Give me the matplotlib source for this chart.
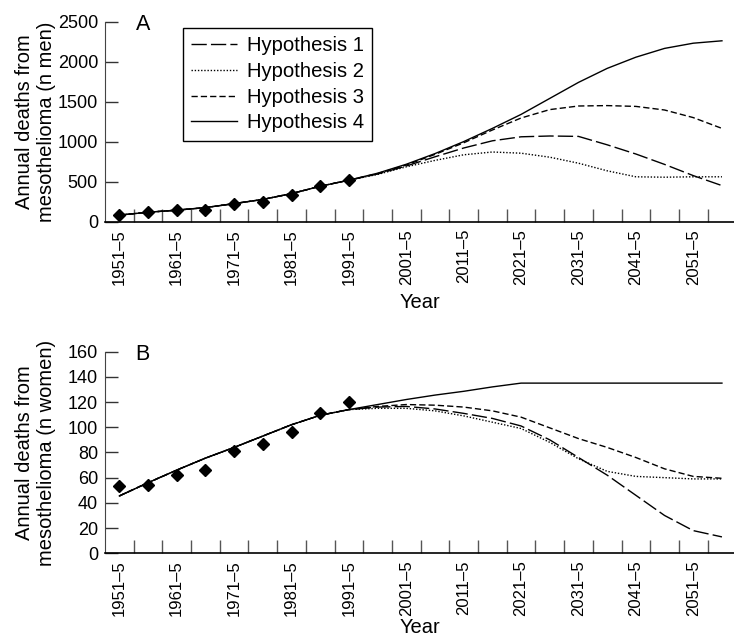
import numpy as np
import matplotlib
matplotlib.use("Agg")
import matplotlib.pyplot as plt

plt.rcParams['font.family'] = ['Liberation Sans', 'DejaVu Sans']

# five-year periods, 1951-5 ... 2056-60
periods = ["1951–5", "1956–60", "1961–5", "1966–70", "1971–5", "1976–80",
           "1981–5", "1986–90", "1991–5", "1996–2000", "2001–5", "2006–10",
           "2011–5", "2016–20", "2021–5", "2026–30", "2031–5", "2036–40",
           "2041–5", "2046–50", "2051–5", "2056–60"]

# men: observed deaths and fitted/projected values
men_observed = [84, 126, 150, 152, 226, 256, 340, 450, 525]
men_fit = [86, 122, 148, 180, 230, 282, 355, 447, 523]
men_h1 = [600, 700, 815, 925, 1015, 1065, 1075, 1070, 965, 850, 720, 580, 455]
men_h2 = [595, 690, 770, 840, 875, 860, 810, 735, 640, 565, 560, 565, 565]
men_h3 = [605, 712, 845, 990, 1150, 1300, 1405, 1450, 1455, 1445, 1400, 1305, 1170]
men_h4 = [610, 722, 855, 1005, 1170, 1345, 1545, 1745, 1920, 2060, 2170, 2235, 2265]

# women
women_observed = [53, 54, 62, 66, 81, 87, 96, 111, 120]
women_fit = [45.5, 56, 66, 75.5, 84, 93, 102, 109.5, 114]
women_h1 = [116, 116.5, 114.5, 111, 107, 101, 90, 76, 62, 46, 30, 18, 13]
women_h2 = [115, 115, 113, 109, 104, 99, 88, 75, 65, 61, 60, 59, 59]
women_h3 = [116.5, 118, 117.5, 116, 113, 108, 99.5, 91, 84, 76, 67, 61, 59.5]
women_h4 = [118, 122, 125.5, 128.5, 132, 135, 135, 135, 135, 135, 135, 135, 135]

labels = ["Hypothesis 1", "Hypothesis 2", "Hypothesis 3", "Hypothesis 4"]
dashes = [(11, 3), (1, 1.3), (4.5, 2.2), None]

W, H = 734, 639
fig = plt.figure(figsize=(W / 100, H / 100), dpi=100)
axA = fig.add_axes([105 / W, (H - 222) / H, 629 / W, 200 / H])
axB = fig.add_axes([105 / W, (H - 553.3) / H, 629 / W, 201.7 / H])

x = np.arange(len(periods))


def draw(ax, observed, fit, hyps, ymax, ystep, ylabel, letter, xlab_y):
    n_obs = len(observed)
    for lab, vals, d in zip(labels, hyps, dashes):
        y = fit + vals
        line, = ax.plot(x, y, color='black', lw=1.0, label=lab)
        if d is not None:
            line.set_dashes(d)
    ax.plot(x[:n_obs], observed, linestyle='none', marker='D', ms=6.5,
            color='black')

    ax.set_xlim(-0.5, 21.42)
    ax.set_ylim(0, ymax)
    ax.set_yticks(np.arange(0, ymax + 1, ystep))
    ax.set_xticks(x[::2])
    ax.set_xticklabels(periods[::2], rotation=90)
    ax.set_xticks(np.arange(0.5, 21, 1), minor=True)
    ax.tick_params(axis='x', which='major', length=0, pad=5, labelsize=12)
    ax.tick_params(axis='x', which='minor', direction='in', length=9.5,
                   width=1, color='#555555')
    ax.tick_params(axis='y', direction='in', length=9.5, width=1,
                   color='#333333', pad=5, labelsize=13)
    for s in ['top', 'right']:
        ax.spines[s].set_visible(False)
    ax.spines['left'].set_color('#444444')
    ax.spines['bottom'].set_linewidth(1.2)

    ax.set_ylabel(ylabel, fontsize=14.5)
    ax.yaxis.set_label_coords(-0.078, 0.5)
    ax.set_xlabel("Year", fontsize=14.5)
    ax.xaxis.set_label_coords(0.5, xlab_y)
    ax.text(0.06, 0.985, letter, transform=ax.transAxes, fontsize=15.5,
            ha='center', va='center')


draw(axA, men_observed, men_fit, [men_h1, men_h2, men_h3, men_h4],
     2500, 500, "Annual deaths from\nmesothelioma (n men)", "A", -0.355)
draw(axB, women_observed, women_fit, [women_h1, women_h2, women_h3, women_h4],
     160, 20, "Annual deaths from\nmesothelioma (n women)", "B", -0.322)

leg = axA.legend(loc='upper left', bbox_to_anchor=(0.1235, 0.9685),
                 borderaxespad=0, fontsize=14.6, handlelength=2.3,
                 handletextpad=0.45, labelspacing=0.33, borderpad=0.4,
                 fancybox=False, framealpha=1)
leg.get_frame().set_edgecolor('black')
leg.get_frame().set_linewidth(1.0)

fig.savefig("out.png", dpi=100)
